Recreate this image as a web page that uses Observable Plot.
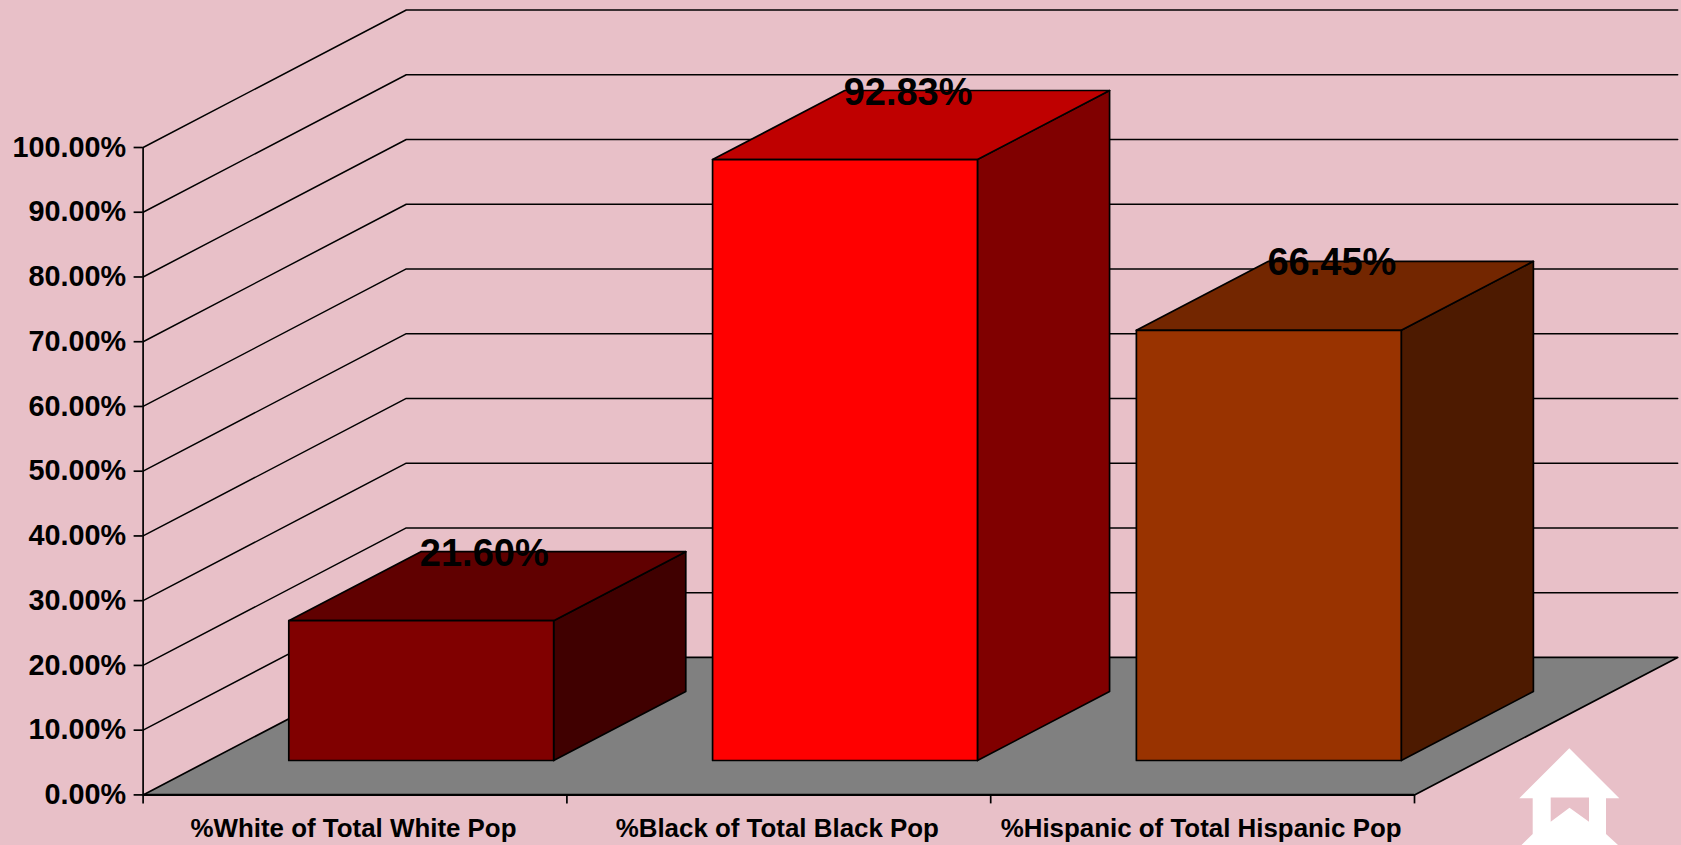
<!DOCTYPE html>
<html>
<head>
<meta charset="utf-8">
<script src="https://cdn.jsdelivr.net/npm/d3@7"></script>
<script src="https://cdn.jsdelivr.net/npm/@observablehq/plot@0.6"></script>
<style>
html,body{margin:0;padding:0;background:#e8c0c8;overflow:hidden;width:1681px;height:845px}
#wrap{position:relative;width:1681px;height:845px}
#wrap svg{display:block}
#house{position:absolute;left:1510px;top:740px}
</style>
</head>
<body>
<div id="wrap"><div id="chart"></div>
<svg id="house" width="120" height="105" viewBox="1510 740 120 105"><path fill="#fff" d="M1569.3 748.3L1619.3 798.3L1606 798.3L1606 834L1618 845L1521.5 845L1532.7 834L1532.7 798.3L1519.3 798.3ZM1550.7 797.5L1550.7 821.7L1569.5 807.7L1589 821.7L1589 797.5Z" fill-rule="evenodd"/></svg>
</div>
<script>
const categories = ["%White of Total White Pop", "%Black of Total Black Pop", "%Hispanic of Total Hispanic Pop"];
const values = [21.60, 92.83, 66.45];
const valueLabels = ["21.60%", "92.83%", "66.45%"];
const frontColors = ["#800000", "#ff0000", "#993300"];
const topColors = ["#600000", "#bf0000", "#732600"];
const sideColors = ["#400000", "#800000", "#4d1a00"];
const yTicks = [0, 10, 20, 30, 40, 50, 60, 70, 80, 90, 100];
const xTicks = [0, 1, 2, 3];

// oblique 3D projection, in data units: depth 0 = front of floor, 1 = back wall
const depthX = 0.621, depthY = 21.24;
const project = (c, v, d) => ({x: c + d * depthX, y: v + d * depthY});
const poly = pts => [...pts, pts[0]].map(([c, v, d]) => project(c, v, d));
const face = (pts, fill, strokeWidth = 1.7) =>
  Plot.line(poly(pts), {x: "x", y: "y", fill, stroke: "#000", strokeWidth});

const barGap = 0.1885, barWidth = 0.625, d0 = 0.25, d1 = 0.752;
const nCat = categories.length;

const marks = [];
// walls' grid lines
for (const v of yTicks.slice(1)) {
  marks.push(Plot.line([project(0, v, 0), project(0, v, 1), project(nCat, v, 1)],
    {x: "x", y: "y", stroke: "#000", strokeWidth: 1.5}));
}
// floor
marks.push(face([[0, 0, 0], [nCat, 0, 0], [nCat, 0, 1], [0, 0, 1]], "#808080"));
// bars
values.forEach((v, i) => {
  const a = i + barGap, b = a + barWidth;
  marks.push(face([[b, 0, d0], [b, 0, d1], [b, v, d1], [b, v, d0]], sideColors[i]));
  marks.push(face([[a, v, d0], [b, v, d0], [b, v, d1], [a, v, d1]], topColors[i]));
  marks.push(face([[a, 0, d0], [b, 0, d0], [b, v, d0], [a, v, d0]], frontColors[i]));
});
const font = {fontFamily: "Liberation Sans", fontWeight: "bold"};
// axes
marks.push(Plot.axisY({ticks: yTicks, tickSize: 9, tickPadding: 8, strokeWidth: 1.7, stroke: "#000",
  tickFormat: d => d.toFixed(2) + "%", label: null, fontSize: 28.8, ...font}));
marks.push(Plot.ruleX([0], {y1: 0, y2: 100, stroke: "#000", strokeWidth: 1.7}));
marks.push(Plot.ruleY([0], {x1: 0, x2: nCat, stroke: "#000", strokeWidth: 2.2}));
marks.push(Plot.axisX({ticks: xTicks, tickSize: 9, tickFormat: () => "", label: null, strokeWidth: 1.7, stroke: "#000"}));
marks.push(Plot.text(categories, {x: (d, i) => i + 0.5, y: () => 0, text: d => d, dy: 34, dx: -1.5, fontSize: 25.9, fill: "#000", ...font}));
// value labels
marks.push(Plot.text(values, {
  x: (d, i) => project(i + barGap + barWidth / 2, d, (d0 + d1) / 2).x,
  y: (d) => project(0, d, d1).y,
  text: (d, i) => valueLabels[i],
  dx: -3, dy: 2, fontSize: 38, fill: "#000", ...font
}));

const chart = Plot.plot({
  width: 1681, height: 845,
  marginLeft: 142.6, marginRight: 267, marginTop: 147, marginBottom: 50.6,
  x: {type: "linear", domain: [0, nCat]},
  y: {type: "linear", domain: [0, 100]},
  style: {background: "#e8c0c8", color: "#000", overflow: "visible"},
  marks
});
document.getElementById("chart").appendChild(chart);
</script>
</body>
</html>
